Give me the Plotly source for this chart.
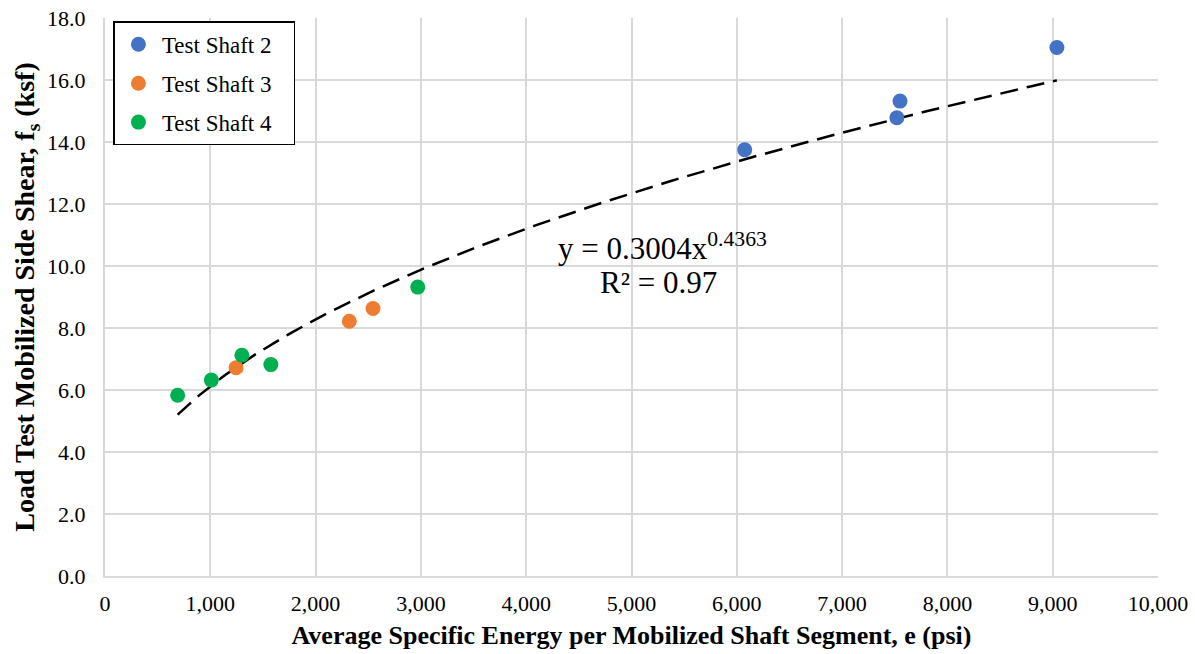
import plotly.graph_objects as go
import numpy as np

# Data
ts2_x = [6075, 7520, 7550, 9040]
ts2_y = [13.75, 14.78, 15.32, 17.05]
ts3_x = [1245, 2320, 2545]
ts3_y = [6.72, 8.22, 8.63]
ts4_x = [690, 1010, 1300, 1575, 2970]
ts4_y = [5.83, 6.32, 7.12, 6.82, 9.32]
series_names = ["Test Shaft 2", "Test Shaft 3", "Test Shaft 4"]
series_colors = ["#4472C4", "#ED7D31", "#00B050"]

# Power trendline shown on chart: y = a * x^b
trend_a = 0.3004
trend_b = 0.4363
all_x = ts2_x + ts3_x + ts4_x
tx = np.linspace(min(all_x), max(all_x), 200)
ty = trend_a * tx ** trend_b

FONT = "Times New Roman"

fig = go.Figure()
fig.add_trace(go.Scatter(x=tx, y=ty, mode="lines", showlegend=False,
                         line=dict(color="black", width=2.5, dash="18px,9px"),
                         hoverinfo="skip"))
for name, xs, ys, col in zip(series_names, [ts2_x, ts3_x, ts4_x],
                             [ts2_y, ts3_y, ts4_y], series_colors):
    fig.add_trace(go.Scatter(x=xs, y=ys, mode="markers",
                             name=name + "&nbsp;&nbsp;&nbsp;",
                             legendgroup=name,
                             marker=dict(color=col, size=15)))

fig.add_annotation(x=5290, y=10.63, xref="x", yref="y",
                   text="y = 0.3004x<sup>0.4363</sup>", showarrow=False,
                   font=dict(family=FONT, size=31, color="black"))
fig.add_annotation(x=5260, y=9.47, xref="x", yref="y",
                   text="R² = 0.97", showarrow=False,
                   font=dict(family=FONT, size=31, color="black"))

fig.update_layout(
    width=1195, height=654,
    margin=dict(l=105, r=37, t=18, b=78),
    paper_bgcolor="white", plot_bgcolor="white",
    font=dict(family=FONT, size=22, color="black"),
    legend=dict(x=0.008, y=0.994, xanchor="left", yanchor="top",
                bordercolor="black", borderwidth=1.5, bgcolor="white",
                font=dict(family=FONT, size=23), tracegroupgap=6,
                itemwidth=37),
    xaxis=dict(range=[0, 10000], tickvals=list(range(0, 10001, 1000)),
               tickformat=",d", showgrid=True, gridcolor="#D9D9D9", gridwidth=2,
               showline=True, linecolor="#D9D9D9", linewidth=2, mirror=False,
               zeroline=False, ticks="", ticklabelstandoff=7, automargin=False,
               tickfont=dict(family=FONT, size=22),
               title=dict(text="<b>Average Specific Energy per Mobilized Shaft Segment, e (psi)</b>",
                          font=dict(family=FONT, size=26), standoff=10)),
    yaxis=dict(range=[0, 18], tickvals=list(range(0, 19, 2)),
               tickformat=".1f", showgrid=True, gridcolor="#D9D9D9", gridwidth=2,
               showline=True, linecolor="#D9D9D9", linewidth=2,
               zeroline=False, ticks="", ticklabelstandoff=13, automargin=False,
               tickfont=dict(family=FONT, size=22),
               title=dict(text="<b>Load Test Mobilized Side Shear, f<sub>s</sub> (ksf)</b>",
                          font=dict(family=FONT, size=28), standoff=4)),
)

fig.write_html("out.html")
